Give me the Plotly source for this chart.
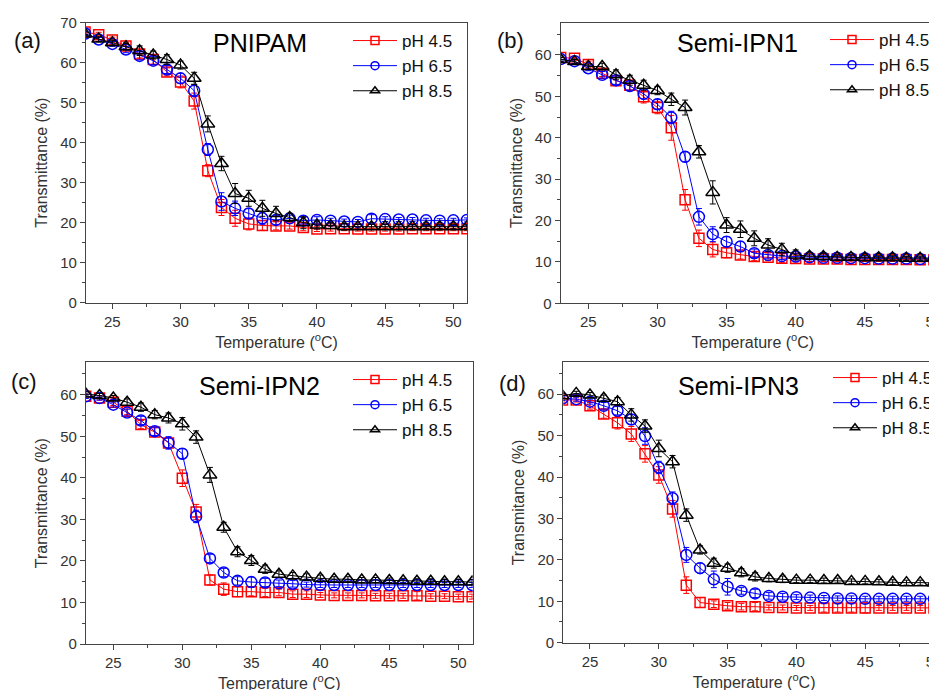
import plotly.graph_objects as go

TEMP = list(range(23, 52))
PH_LABELS = ["pH 4.5", "pH 6.5", "pH 8.5"]

# PNIPAM
PNIPAM_45 = [67.7, 67.0, 65.7, 64.2, 62.2, 60.8, 57.7, 55.2, 50.4,
             33.0, 23.8, 21.1, 19.7, 19.3, 19.2, 19.2, 18.8, 18.4, 18.5, 18.5,
             18.4, 18.4, 18.4, 18.4, 18.5, 18.5, 18.5, 18.5, 18.5]
PNIPAM_65 = [67.3, 65.8, 64.7, 63.3, 61.7, 60.5, 58.3, 56.1, 53.0,
             38.3, 25.3, 23.6, 22.3, 21.1, 20.7, 21.1, 20.5, 20.7, 20.5, 20.3,
             20.2, 21.0, 20.9, 20.8, 20.8, 20.6, 20.5, 20.6, 20.7]
PNIPAM_85 = [67.2, 65.9, 65.0, 64.0, 63.0, 61.9, 60.8, 59.4, 56.1,
             44.7, 34.8, 27.3, 26.1, 23.6, 22.3, 21.3, 20.0, 19.4, 19.3, 19.0,
             19.0, 19.0, 19.0, 19.0, 19.0, 19.0, 19.0, 19.0, 19.0]
PNIPAM_45_ERR = [0.5, 0.6, 0.7, 0.8, 1.0, 1.2, 1.0, 1.5, 2.0,
                 1.5, 2.0, 2.0, 1.5, 1.2, 1.0, 0.8, 0.8, 0.6, 0.6, 0.5,
                 0.5, 0.5, 0.5, 0.5, 0.5, 0.5, 0.5, 0.5, 0.5]
PNIPAM_65_ERR = [0.5, 0.5, 0.6, 0.8, 1.0, 1.0, 1.0, 1.2, 1.5,
                 1.5, 2.2, 1.8, 1.2, 1.5, 1.2, 0.8, 0.8, 0.8, 0.6, 0.6,
                 0.6, 1.0, 0.6, 0.5, 0.5, 0.5, 0.5, 0.5, 0.5]
PNIPAM_85_ERR = [0.5, 0.6, 0.6, 0.8, 1.2, 1.0, 1.2, 1.0, 1.5,
                 2.0, 1.8, 2.5, 2.0, 2.0, 1.8, 1.0, 1.5, 1.0, 0.8, 0.8,
                 0.6, 0.6, 0.6, 0.6, 0.5, 0.5, 0.5, 0.5, 0.5]

# Semi-IPN1
IPN1_45 = [59.4, 59.2, 57.7, 55.6, 53.8, 52.7, 49.9, 47.3, 42.4,
           25.0, 15.7, 13.0, 12.2, 11.7, 11.3, 11.1, 10.9, 10.8, 10.7, 10.7,
           10.7, 10.6, 10.6, 10.6, 10.6, 10.6, 10.5, 10.5, 10.5]
IPN1_65 = [59.0, 58.5, 56.8, 55.2, 53.9, 52.5, 50.6, 48.1, 44.9,
           35.4, 20.9, 16.7, 14.9, 13.7, 12.1, 11.7, 11.4, 11.3, 11.1, 11.0,
           11.0, 10.9, 10.9, 10.8, 10.8, 10.8, 10.7, 10.7, 10.7]
IPN1_85 = [58.9, 58.4, 57.2, 57.2, 55.2, 53.9, 52.7, 51.4, 49.3,
           47.3, 36.6, 26.8, 18.9, 17.9, 15.7, 14.1, 13.0, 11.7, 11.4, 11.3,
           11.1, 11.1, 11.0, 11.0, 11.0, 10.9, 10.9, 10.9, 10.9]
IPN1_45_ERR = [0.5, 0.5, 0.8, 0.8, 1.2, 1.2, 1.5, 1.5, 3.0,
               2.5, 2.0, 1.8, 1.2, 1.0, 1.0, 0.8, 1.0, 0.8, 0.6, 0.6,
               0.6, 0.6, 0.5, 0.5, 0.5, 0.5, 0.5, 0.5, 0.5]
IPN1_65_ERR = [0.5, 0.5, 0.6, 0.8, 1.0, 1.0, 1.2, 1.2, 1.5,
               1.2, 2.0, 1.8, 1.2, 1.2, 1.0, 0.8, 0.8, 0.8, 0.6, 0.6,
               0.6, 0.6, 0.5, 0.5, 0.5, 0.5, 0.5, 0.5, 0.5]
IPN1_85_ERR = [0.5, 0.5, 0.6, 0.8, 1.2, 1.2, 1.2, 1.0, 1.5,
               1.8, 1.5, 2.8, 1.8, 2.0, 1.8, 1.5, 1.5, 1.2, 0.8, 0.8,
               0.6, 0.6, 0.6, 0.5, 0.5, 0.5, 0.5, 0.5, 0.5]

# Semi-IPN2
IPN2_45 = [59.6, 59.2, 58.2, 56.0, 52.8, 51.0, 48.4, 39.9, 31.8,
           15.4, 13.2, 12.6, 12.6, 12.4, 12.4, 12.0, 12.0, 11.8, 11.7, 11.7,
           11.7, 11.6, 11.6, 11.6, 11.6, 11.5, 11.5, 11.4, 11.4]
IPN2_65 = [59.6, 59.2, 57.6, 55.7, 53.8, 51.2, 48.4, 45.8, 30.7,
           20.6, 17.2, 15.2, 14.9, 14.8, 14.6, 14.5, 14.3, 14.2, 14.2, 14.2,
           14.2, 14.2, 14.2, 14.2, 14.2, 14.2, 14.2, 14.2, 14.2]
IPN2_85 = [60.2, 59.8, 59.2, 58.2, 57.0, 55.2, 54.4, 53.0, 49.8,
           40.7, 28.1, 22.2, 20.1, 18.0, 16.8, 16.4, 16.1, 15.8, 15.6, 15.6,
           15.4, 15.4, 15.3, 15.2, 15.1, 15.1, 15.0, 15.0, 14.9]
IPN2_45_ERR = [0.5, 0.5, 0.8, 0.8, 1.0, 1.0, 1.2, 2.0, 1.8,
               1.2, 1.5, 1.2, 1.0, 1.0, 0.8, 0.8, 0.8, 0.6, 0.6, 0.6,
               0.6, 0.6, 0.6, 0.6, 1.0, 0.6, 0.6, 0.6, 0.6]
IPN2_65_ERR = [0.5, 0.5, 0.6, 0.8, 1.0, 1.0, 1.5, 1.2, 1.5,
               1.0, 1.0, 1.0, 1.2, 1.0, 0.8, 0.8, 0.6, 0.6, 0.6, 0.6,
               0.6, 0.6, 0.6, 0.6, 0.6, 0.6, 0.6, 0.6, 0.6]
IPN2_85_ERR = [0.5, 0.5, 0.6, 0.8, 1.0, 1.0, 1.2, 1.5, 1.5,
               1.8, 1.2, 1.2, 1.2, 1.0, 0.8, 0.8, 0.8, 0.8, 0.6, 0.6,
               0.6, 0.6, 0.6, 0.6, 0.6, 0.6, 0.6, 0.6, 0.6]

# Semi-IPN3
IPN3_45 = [58.6, 58.6, 57.2, 55.2, 53.1, 50.4, 45.6, 40.5, 32.3,
           13.9, 9.7, 9.3, 8.9, 8.7, 8.7, 8.5, 8.5, 8.4, 8.4, 8.4,
           8.4, 8.4, 8.4, 8.4, 8.4, 8.4, 8.4, 8.4, 8.4]
IPN3_65 = [59.0, 58.8, 58.2, 57.2, 56.0, 53.9, 49.9, 42.3, 34.9,
           21.2, 18.0, 15.3, 13.5, 12.5, 11.9, 11.3, 11.1, 11.0, 10.9, 10.8,
           10.7, 10.7, 10.6, 10.6, 10.6, 10.6, 10.6, 10.6, 10.6]
IPN3_85 = [59.6, 60.2, 59.8, 59.0, 58.2, 55.0, 52.3, 46.9, 43.7,
           30.8, 22.4, 19.2, 18.0, 16.9, 15.9, 15.5, 15.3, 15.1, 15.1, 15.0,
           15.0, 14.8, 14.8, 14.7, 14.6, 14.5, 14.5, 14.4, 14.4]
IPN3_45_ERR = [0.5, 0.5, 0.8, 1.0, 1.5, 1.8, 2.0, 2.0, 2.0,
               2.0, 1.2, 0.8, 0.8, 0.8, 1.0, 0.6, 0.6, 0.6, 0.6, 1.0,
               1.0, 1.0, 1.2, 0.6, 0.6, 0.6, 0.6, 0.6, 0.6]
IPN3_65_ERR = [0.5, 0.5, 0.6, 0.8, 1.0, 1.2, 2.0, 1.5, 1.5,
               1.8, 1.2, 2.0, 2.0, 0.8, 1.0, 0.8, 0.8, 0.6, 0.6, 0.6,
               0.6, 0.6, 0.6, 0.6, 0.6, 0.6, 0.6, 0.6, 0.6]
IPN3_85_ERR = [0.5, 0.5, 0.6, 0.8, 1.0, 1.5, 1.5, 2.0, 1.5,
               1.5, 1.0, 1.2, 1.0, 1.0, 1.0, 0.8, 0.8, 0.6, 0.6, 0.6,
               0.6, 0.6, 0.6, 0.6, 0.6, 0.6, 0.6, 0.6, 0.6]

W, H = 937, 690
OFF = 8  # page body margin shifts the figure; positions below are picture px
FONT = "Liberation Sans, Arial, sans-serif"
COLORS = ["#ff0000", "#0000ff", "#000000"]
SYMBOLS = ["square-open", "circle-open", "triangle-up-open"]
SIZES = [10, 11, 12]
AXIS_COLOR = "#444444"
TEXT_COLOR = "#333333"

# (label, name, series, errors, y title, box l r t b, x range, y range,
#  label xy, name xy, legend xy)
PANELS = [
    ("(a)", "PNIPAM", [PNIPAM_45, PNIPAM_65, PNIPAM_85],
     [PNIPAM_45_ERR, PNIPAM_65_ERR, PNIPAM_85_ERR], "Transmittance (%)",
     (86, 467, 22.7, 302.7), [23.07, 51.0], [0, 70],
     (27, 40), (260, 43), (348, 23)),
    ("(b)", "Semi-IPN1", [IPN1_45, IPN1_65, IPN1_85],
     [IPN1_45_ERR, IPN1_65_ERR, IPN1_85_ERR], "Transmittance (%)",
     (560.7, 945, 22.7, 303.3), [23.0, 50.8], [0, 67.8],
     (510, 40), (737.5, 43), (825, 22)),
    ("(c)", "Semi-IPN2", [IPN2_45, IPN2_65, IPN2_85],
     [IPN2_45_ERR, IPN2_65_ERR, IPN2_85_ERR], "Transmittance (%)",
     (86, 472.7, 362.3, 644), [23.02, 51.04], [0, 67.8],
     (24, 381.5), (259, 386), (348, 362)),
    ("(d)", "Semi-IPN3", [IPN3_45, IPN3_65, IPN3_85],
     [IPN3_45_ERR, IPN3_65_ERR, IPN3_85_ERR], "Transmitance (%)",
     (563.3, 945, 362.3, 642.7), [23.06, 50.8], [0, 67.7],
     (512, 383), (738.5, 386), (828, 360)),
]


def px(v):
    return v - OFF


fig = go.Figure()
layout = {}
annotations = []

for i, (label, name, series, errs, ytitle, box, xr, yr,
        lab_xy, name_xy, leg_xy) in enumerate(PANELS):
    n = "" if i == 0 else str(i + 1)
    xa, ya = "x" + n, "y" + n
    leg = "legend" + n
    l, r, t, b = [px(v) for v in box]

    for k in range(3):
        fig.add_trace(go.Scatter(
            x=TEMP, y=series[k], xaxis=xa, yaxis=ya,
            mode="lines+markers", showlegend=False,
            line={"color": COLORS[k], "width": 1},
            marker={"symbol": SYMBOLS[k], "size": SIZES[k], "color": COLORS[k],
                    "line": {"width": 1.5, "color": COLORS[k]}},
            error_y={"type": "data", "array": errs[k], "visible": True,
                     "color": COLORS[k], "thickness": 1, "width": 3},
        ))
    # legend entries with smaller symbols
    for k in range(3):
        fig.add_trace(go.Scatter(
            x=[None], y=[None], xaxis=xa, yaxis=ya, name=PH_LABELS[k],
            mode="lines+markers", legend=leg,
            line={"color": COLORS[k], "width": 1},
            marker={"symbol": SYMBOLS[k], "size": 8, "color": COLORS[k],
                    "line": {"width": 1.5, "color": COLORS[k]}},
        ))

    common = dict(
        showline=True, linecolor=AXIS_COLOR, linewidth=1.3, mirror=True,
        ticks="outside", ticklen=5, tickwidth=1, tickcolor=AXIS_COLOR,
        showgrid=False, zeroline=False,
        tickfont={"size": 15, "color": TEXT_COLOR, "family": FONT},
    )
    layout["xaxis" + n] = dict(
        common, domain=[l / W, min(r / W, 1)], anchor=ya, range=xr,
        tickvals=[25, 30, 35, 40, 45, 50], ticklabeloverflow="allow",
        minor={"tickvals": [27.5, 32.5, 37.5, 42.5, 47.5], "ticks": "outside",
               "ticklen": 3, "tickcolor": AXIS_COLOR},
        title={"text": "Temperature (<sup>o</sup>C)", "standoff": 7,
               "font": {"size": 16, "color": TEXT_COLOR, "family": FONT}},
    )
    layout["yaxis" + n] = dict(
        common, domain=[1 - b / H, 1 - t / H], anchor=xa, range=yr,
        dtick=10,
        minor={"dtick": 5, "ticks": "outside", "ticklen": 3,
               "tickcolor": AXIS_COLOR},
        title={"text": ytitle, "standoff": 8,
               "font": {"size": 16, "color": TEXT_COLOR, "family": FONT}},
    )

    layout[leg] = dict(
        x=px(leg_xy[0]) / W, y=1 - px(leg_xy[1]) / H,
        xanchor="left", yanchor="top",
        bgcolor="rgba(0,0,0,0)", borderwidth=0, itemwidth=44,
        font={"size": 17, "color": "#111111", "family": FONT},
        tracegroupgap=0,
    )

    annotations.append(dict(
        text=label, x=px(lab_xy[0]) / W, y=1 - px(lab_xy[1]) / H,
        xref="paper", yref="paper", xanchor="center", yanchor="middle",
        showarrow=False, font={"size": 22, "color": "#111111", "family": FONT},
    ))
    annotations.append(dict(
        text=name, x=px(name_xy[0]) / W, y=1 - px(name_xy[1]) / H,
        xref="paper", yref="paper", xanchor="center", yanchor="middle",
        showarrow=False, font={"size": 25, "color": "#000000", "family": FONT},
    ))

fig.update_layout(
    width=W, height=H,
    margin={"l": 0, "r": 0, "t": 0, "b": 0, "autoexpand": False},
    paper_bgcolor="white", plot_bgcolor="white",
    font={"family": FONT, "color": TEXT_COLOR},
    annotations=annotations,
    **layout,
)
fig.write_html("out.html")
